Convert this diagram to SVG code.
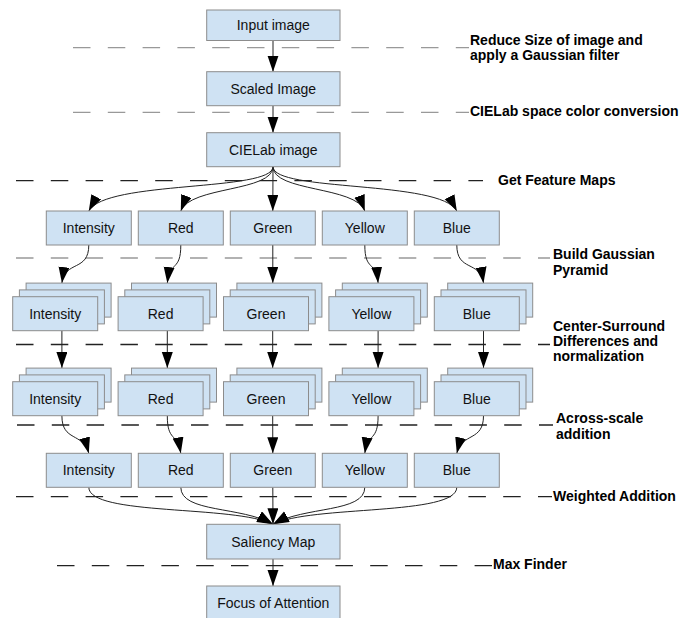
<svg xmlns="http://www.w3.org/2000/svg" width="685" height="618" viewBox="0 0 685 618">
<style>
.box{fill:#cfe2f3;stroke:#8c8c8c;stroke-width:1}
.t{font-family:"Liberation Sans",Arial,sans-serif;font-size:14px;fill:#111;text-anchor:middle}
.lab{font-family:"Liberation Sans",Arial,sans-serif;font-size:14px;font-weight:bold;fill:#000}
.dg{stroke:#999;stroke-width:1.3;stroke-dasharray:17.5 17.3;fill:none}
.dk{stroke:#222;stroke-width:1.3;stroke-dasharray:17.5 17.3;fill:none}
.c{fill:none;stroke:#222;stroke-width:1;marker-end:url(#ah)}
</style>
<defs>
<marker id="ah" markerUnits="userSpaceOnUse" markerWidth="18" markerHeight="13" refX="16" refY="5.5" orient="auto">
<path d="M0,0 L16,5.5 L0,11 z" fill="#000"/>
</marker>
<g id="stk">
<rect class="box" x="13.4" y="-13.6" width="85" height="34"/>
<rect class="box" x="6.7" y="-6.8" width="85" height="34"/>
<rect class="box" x="0" y="0" width="85" height="34"/>
</g>
</defs>
<rect width="685" height="618" fill="#fff"/>

<g id="separators">
<line class="dg" x1="73" y1="47.7" x2="469" y2="47.7"/>
<line class="dg" x1="73" y1="112.3" x2="469" y2="112.3"/>
<line class="dk" x1="16" y1="180.7" x2="483" y2="180.7"/>
<line class="dg" x1="16" y1="258" x2="550" y2="258"/>
<line class="dk" x1="16" y1="344.5" x2="550" y2="344.5"/>
<line class="dk" x1="17" y1="425" x2="553" y2="425"/>
<line class="dk" x1="16" y1="496.7" x2="552" y2="496.7"/>
<line class="dk" x1="57" y1="565.7" x2="492" y2="565.7"/>
</g>

<g id="labels">
<text class="lab" x="470" y="45.3">Reduce Size of image and</text>
<text class="lab" x="470" y="60">apply a Gaussian filter</text>
<text class="lab" x="470" y="116">CIELab space color conversion</text>
<text class="lab" x="498" y="185">Get Feature Maps</text>
<text class="lab" x="553" y="259.3">Build Gaussian</text>
<text class="lab" x="553" y="274.5">Pyramid</text>
<text class="lab" x="553" y="330.7">Center-Surround</text>
<text class="lab" x="553" y="346">Differences and</text>
<text class="lab" x="553" y="361">normalization</text>
<text class="lab" x="556" y="423">Across-scale</text>
<text class="lab" x="556" y="439">addition</text>
<text class="lab" x="553" y="501">Weighted Addition</text>
<text class="lab" x="493" y="569">Max Finder</text>
</g>

<g id="connectors">
<path class="c" d="M273,40.5 L273,71.7"/>
<path class="c" d="M273,105.7 L273,132.7"/>
<path class="c" d="M273,166.7 C273,192 105,180 88.8,211"/>
<path class="c" d="M273,166.7 C273,192 190,186 180.8,211"/>
<path class="c" d="M273,166.7 L272.8,211"/>
<path class="c" d="M273,166.7 C273,192 356,186 364.8,211"/>
<path class="c" d="M273,166.7 C273,192 441,180 456.8,211"/>
<path class="c" d="M88.8,245 C88.8,272 65,260 61.9,283"/>
<path class="c" d="M180.8,245 C180.8,272 170,260 167.3,283"/>
<path class="c" d="M272.8,245 L272.8,283"/>
<path class="c" d="M364.8,245 C364.8,272 376,260 378.1,283"/>
<path class="c" d="M456.8,245 C456.8,272 480,260 483.5,283"/>
<path class="c" d="M61.9,330.7 L61.9,368"/>
<path class="c" d="M167.3,330.7 L167.3,368"/>
<path class="c" d="M272.7,330.7 L272.7,368"/>
<path class="c" d="M378.1,330.7 L378.1,368"/>
<path class="c" d="M483.5,330.7 L483.5,368"/>
<path class="c" d="M61.9,415.7 C61.9,442 83,432 88.8,453.3"/>
<path class="c" d="M167.3,415.7 C167.3,442 177,432 180.8,453.3"/>
<path class="c" d="M272.7,415.7 L272.8,453.3"/>
<path class="c" d="M378.1,415.7 C378.1,442 368,432 364.8,453.3"/>
<path class="c" d="M483.5,415.7 C483.5,442 462,432 456.8,453.3"/>
<path class="c" d="M88.8,487.3 C88.8,516 235,505 273,524.3"/>
<path class="c" d="M180.8,487.3 C180.8,513 242,506 273,524.3"/>
<path class="c" d="M272.8,487.3 L273,524.3"/>
<path class="c" d="M364.8,487.3 C364.8,513 304,506 273,524.3"/>
<path class="c" d="M456.8,487.3 C456.8,516 311,505 273,524.3"/>
<path class="c" d="M273,559 L273,586"/>
</g>

<g id="input-image"><rect class="box" x="206.7" y="10" width="133.3" height="30.5"/><text class="t" x="273.3" y="30">Input image</text></g>
<g id="scaled-image"><rect class="box" x="206.7" y="71.7" width="133.3" height="34"/><text class="t" x="273.3" y="93.5">Scaled Image</text></g>
<g id="cielab-image"><rect class="box" x="206.7" y="132.7" width="133.3" height="34"/><text class="t" x="273.3" y="154.5">CIELab image</text></g>

<g id="f-intensity"><rect class="box" x="46.3" y="211" width="85" height="34"/><text class="t" x="88.8" y="233">Intensity</text></g>
<g id="f-red"><rect class="box" x="138.3" y="211" width="85" height="34"/><text class="t" x="180.8" y="233">Red</text></g>
<g id="f-green"><rect class="box" x="230.3" y="211" width="85" height="34"/><text class="t" x="272.8" y="233">Green</text></g>
<g id="f-yellow"><rect class="box" x="322.3" y="211" width="85" height="34"/><text class="t" x="364.8" y="233">Yellow</text></g>
<g id="f-blue"><rect class="box" x="414.3" y="211" width="85" height="34"/><text class="t" x="456.8" y="233">Blue</text></g>

<g id="p-intensity"><use href="#stk" x="12.7" y="296.7"/><text class="t" x="55.2" y="318.5">Intensity</text></g>
<g id="p-red"><use href="#stk" x="118.1" y="296.7"/><text class="t" x="160.6" y="318.5">Red</text></g>
<g id="p-green"><use href="#stk" x="223.5" y="296.7"/><text class="t" x="266" y="318.5">Green</text></g>
<g id="p-yellow"><use href="#stk" x="328.9" y="296.7"/><text class="t" x="371.4" y="318.5">Yellow</text></g>
<g id="p-blue"><use href="#stk" x="434.3" y="296.7"/><text class="t" x="476.8" y="318.5">Blue</text></g>

<g id="c-intensity"><use href="#stk" x="12.7" y="381.7"/><text class="t" x="55.2" y="403.5">Intensity</text></g>
<g id="c-red"><use href="#stk" x="118.1" y="381.7"/><text class="t" x="160.6" y="403.5">Red</text></g>
<g id="c-green"><use href="#stk" x="223.5" y="381.7"/><text class="t" x="266" y="403.5">Green</text></g>
<g id="c-yellow"><use href="#stk" x="328.9" y="381.7"/><text class="t" x="371.4" y="403.5">Yellow</text></g>
<g id="c-blue"><use href="#stk" x="434.3" y="381.7"/><text class="t" x="476.8" y="403.5">Blue</text></g>

<g id="a-intensity"><rect class="box" x="46.3" y="453.3" width="85" height="34"/><text class="t" x="88.8" y="475">Intensity</text></g>
<g id="a-red"><rect class="box" x="138.3" y="453.3" width="85" height="34"/><text class="t" x="180.8" y="475">Red</text></g>
<g id="a-green"><rect class="box" x="230.3" y="453.3" width="85" height="34"/><text class="t" x="272.8" y="475">Green</text></g>
<g id="a-yellow"><rect class="box" x="322.3" y="453.3" width="85" height="34"/><text class="t" x="364.8" y="475">Yellow</text></g>
<g id="a-blue"><rect class="box" x="414.3" y="453.3" width="85" height="34"/><text class="t" x="456.8" y="475">Blue</text></g>

<g id="saliency-map"><rect class="box" x="206.7" y="524.3" width="133.3" height="34.7"/><text class="t" x="273.3" y="546.5">Saliency Map</text></g>
<g id="focus-of-attention"><rect class="box" x="206.7" y="586" width="133.3" height="34"/><text class="t" x="273.3" y="608">Focus of Attention</text></g>
</svg>
